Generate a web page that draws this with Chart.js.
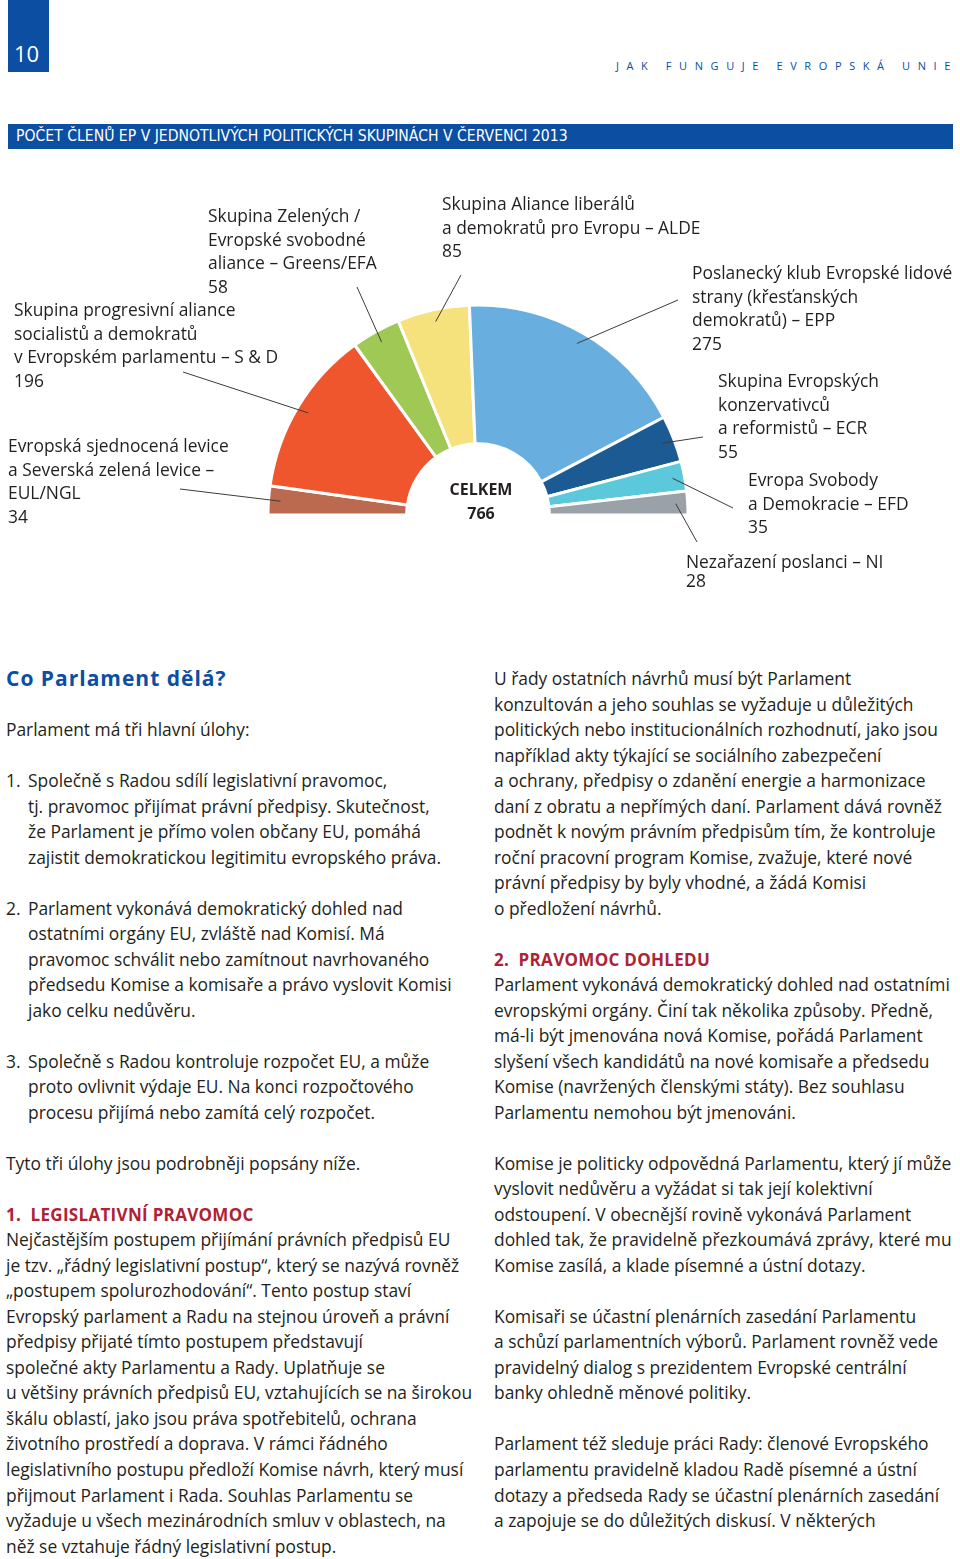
<!DOCTYPE html>
<html lang="cs">
<head>
<meta charset="utf-8">
<title>Počet členů EP v jednotlivých politických skupinách</title>
<script src="https://cdn.jsdelivr.net/npm/chart.js@4.4.1/dist/chart.umd.min.js"></script>
<style>
body { margin: 0; background: #fff; }
#page { position: relative; width: 960px; height: 1559px; overflow: hidden; font-family: "Open Sans", sans-serif; color: #231f20; }
#pagenum { position: absolute; left: 8px; top: 0; width: 41px; height: 72px; background: #0b4ea2; color: #fff; font-size: 22px; }
#pagenum span { position: absolute; left: 6px; top: 38px; line-height: 30px; }
#running { position: absolute; right: 2px; top: 58px; font-size: 11px; letter-spacing: 7.6px; color: #0b4ea2; line-height: 16px; white-space: nowrap; }
#band { position: absolute; left: 8px; top: 124px; width: 945px; height: 25px; background: #0b4ea2; color: #fff; }
#band span { position: absolute; left: 8px; top: 0; line-height: 25px; font-family: "Liberation Sans Narrow", "DejaVu Sans Condensed", sans-serif; font-stretch: condensed; font-size: 15.6px; white-space: nowrap; }
#chart { position: absolute; left: 0; top: 180px; }
.lbl { position: absolute; font-size: 17.4px; white-space: nowrap; color: #231f20; }
.lbl div { height: 0; position: relative; }
.lbl span { position: absolute; left: 0; transform: translateY(-50%); }
#total { position: absolute; left: 431px; width: 100px; top: 478px; text-align: center; font-weight: bold; font-size: 16px; line-height: 23.5px; color: #231f20; }
.col { position: absolute; top: 666px; font-size: 17.4px; }
.col .l { height: 25.53px; line-height: 25.53px; white-space: nowrap; }
.col .i { padding-left: 22px; position: relative; }
.col .i b { position: absolute; left: 0; font-weight: normal; }
.h1 { color: #0b4ea2; font-weight: bold; font-size: 21px; letter-spacing: 1px; }
.h2 { color: #ad2335; font-weight: bold; font-size: 17px; letter-spacing: 0.3px; }
</style>
</head>
<body>
<div id="page">
  <div id="pagenum"><span>10</span></div>
  <div id="running">JAK FUNGUJE EVROPSKÁ UNIE</div>
  <div id="band"><span>POČET ČLENŮ EP V JEDNOTLIVÝCH POLITICKÝCH SKUPINÁCH V ČERVENCI 2013</span></div>

  <canvas id="chart" width="960" height="420"></canvas>
  <div id="labels"></div>
  <div id="total"><div>CELKEM</div><div id="totalValue"></div></div>

  <div class="col" style="left:6px">
    <div class="l h1">Co Parlament dělá?</div>
    <div class="l"></div>
    <div class="l">Parlament má tři hlavní úlohy:</div>
    <div class="l"></div>
    <div class="l i"><b>1.</b>Společně s Radou sdílí legislativní pravomoc,</div>
    <div class="l i">tj. pravomoc přijímat právní předpisy. Skutečnost,</div>
    <div class="l i">že Parlament je přímo volen občany EU, pomáhá</div>
    <div class="l i">zajistit demokratickou legitimitu evropského práva.</div>
    <div class="l"></div>
    <div class="l i"><b>2.</b>Parlament vykonává demokratický dohled nad</div>
    <div class="l i">ostatními orgány EU, zvláště nad Komisí. Má</div>
    <div class="l i">pravomoc schválit nebo zamítnout navrhovaného</div>
    <div class="l i">předsedu Komise a komisaře a právo vyslovit Komisi</div>
    <div class="l i">jako celku nedůvěru.</div>
    <div class="l"></div>
    <div class="l i"><b>3.</b>Společně s Radou kontroluje rozpočet EU, a může</div>
    <div class="l i">proto ovlivnit výdaje EU. Na konci rozpočtového</div>
    <div class="l i">procesu přijímá nebo zamítá celý rozpočet.</div>
    <div class="l"></div>
    <div class="l">Tyto tři úlohy jsou podrobněji popsány níže.</div>
    <div class="l"></div>
    <div class="l h2">1.&nbsp; LEGISLATIVNÍ PRAVOMOC</div>
    <div class="l">Nejčastějším postupem přijímání právních předpisů EU</div>
    <div class="l">je tzv. „řádný legislativní postup“, který se nazývá rovněž</div>
    <div class="l">„postupem spolurozhodování“. Tento postup staví</div>
    <div class="l">Evropský parlament a Radu na stejnou úroveň a právní</div>
    <div class="l">předpisy přijaté tímto postupem představují</div>
    <div class="l">společné akty Parlamentu a Rady. Uplatňuje se</div>
    <div class="l">u většiny právních předpisů EU, vztahujících se na širokou</div>
    <div class="l">škálu oblastí, jako jsou práva spotřebitelů, ochrana</div>
    <div class="l">životního prostředí a doprava. V rámci řádného</div>
    <div class="l">legislativního postupu předloží Komise návrh, který musí</div>
    <div class="l">přijmout Parlament i Rada. Souhlas Parlamentu se</div>
    <div class="l">vyžaduje u všech mezinárodních smluv v oblastech, na</div>
    <div class="l">něž se vztahuje řádný legislativní postup.</div>
  </div>

  <div class="col" style="left:494px">
    <div class="l">U řady ostatních návrhů musí být Parlament</div>
    <div class="l">konzultován a jeho souhlas se vyžaduje u důležitých</div>
    <div class="l">politických nebo institucionálních rozhodnutí, jako jsou</div>
    <div class="l">například akty týkající se sociálního zabezpečení</div>
    <div class="l">a ochrany, předpisy o zdanění energie a harmonizace</div>
    <div class="l">daní z obratu a nepřímých daní. Parlament dává rovněž</div>
    <div class="l">podnět k novým právním předpisům tím, že kontroluje</div>
    <div class="l">roční pracovní program Komise, zvažuje, které nové</div>
    <div class="l">právní předpisy by byly vhodné, a žádá Komisi</div>
    <div class="l">o předložení návrhů.</div>
    <div class="l"></div>
    <div class="l h2">2.&nbsp; PRAVOMOC DOHLEDU</div>
    <div class="l">Parlament vykonává demokratický dohled nad ostatními</div>
    <div class="l">evropskými orgány. Činí tak několika způsoby. Předně,</div>
    <div class="l">má-li být jmenována nová Komise, pořádá Parlament</div>
    <div class="l">slyšení všech kandidátů na nové komisaře a předsedu</div>
    <div class="l">Komise (navržených členskými státy). Bez souhlasu</div>
    <div class="l">Parlamentu nemohou být jmenováni.</div>
    <div class="l"></div>
    <div class="l">Komise je politicky odpovědná Parlamentu, který jí může</div>
    <div class="l">vyslovit nedůvěru a vyžádat si tak její kolektivní</div>
    <div class="l">odstoupení. V obecnější rovině vykonává Parlament</div>
    <div class="l">dohled tak, že pravidelně přezkoumává zprávy, které mu</div>
    <div class="l">Komise zasílá, a klade písemné a ústní dotazy.</div>
    <div class="l"></div>
    <div class="l">Komisaři se účastní plenárních zasedání Parlamentu</div>
    <div class="l">a schůzí parlamentních výborů. Parlament rovněž vede</div>
    <div class="l">pravidelný dialog s prezidentem Evropské centrální</div>
    <div class="l">banky ohledně měnové politiky.</div>
    <div class="l"></div>
    <div class="l">Parlament též sleduje práci Rady: členové Evropského</div>
    <div class="l">parlamentu pravidelně kladou Radě písemné a ústní</div>
    <div class="l">dotazy a předseda Rady se účastní plenárních zasedání</div>
    <div class="l">a zapojuje se do důležitých diskusí. V některých</div>
  </div>
</div>

<script>
// seats per political group, July 2013 (left to right around the half circle)
const groups = ['EUL/NGL', 'S&D', 'Greens/EFA', 'ALDE', 'EPP', 'ECR', 'EFD', 'NI']
const seats = [34, 196, 58, 85, 275, 55, 35, 28]
const groupNames = [
    ['Evropská sjednocená levice', 'a Severská zelená levice –', 'EUL/NGL'],
    ['Skupina progresivní aliance', 'socialistů a demokratů', 'v Evropském parlamentu – S & D'],
    ['Skupina Zelených /', 'Evropské svobodné', 'aliance – Greens/EFA'],
    ['Skupina Aliance liberálů', 'a demokratů pro Evropu – ALDE'],
    ['Poslanecký klub Evropské lidové', 'strany (křesťanských', 'demokratů) – EPP'],
    ['Skupina Evropských', 'konzervativců', 'a reformistů – ECR'],
    ['Evropa Svobody', 'a Demokracie – EFD'],
    ['Nezařazení poslanci – NI']
]
const colors = ['#bc6a4f', '#f0562e', '#9fc954', '#f5e27c', '#68afdf', '#1b5a92', '#5bc8db', '#9aa1a8']

// where each label sits on the page: left, centre of first line, line step
const labelPos = [
    [8, 445, 23.5], [14, 309, 23.6], [208, 215, 23.6], [442, 203, 23.5],
    [692, 272, 23.7], [718, 380, 23.7], [748, 479, 23.5], [686, 561, 19]
]
// outer end of each leader line (page coordinates)
const leaderEnd = [[180, 489], [183, 372], [357, 287], [461, 275], [678, 300], [703, 437], [733, 508], [697, 542]]

const canvasTop = 180

let labelsWrap = document.querySelector('#labels')
groupNames.forEach((lines, i) => {
    let [x, y, step] = labelPos[i]
    let box = document.createElement('div')
    box.className = 'lbl'
    box.style.left = x + 'px'
    box.style.top = y + 'px'
    lines.concat(String(seats[i])).forEach((txt, k) => {
        let row = document.createElement('div')
        row.style.top = (k * step) + 'px'
        let s = document.createElement('span')
        s.textContent = txt
        row.append(s)
        box.append(row)
    })
    labelsWrap.append(box)
})

let total = seats.reduce((a, b) => a + b, 0)
document.querySelector('#totalValue').textContent = total

const leaders = {
    id: 'leaders',
    afterDatasetsDraw(chart) {
        const ctx = chart.ctx
        const arcs = chart.getDatasetMeta(0).data
        ctx.save()
        ctx.strokeStyle = '#3c3c3c'
        ctx.lineWidth = 1
        arcs.forEach((arc, i) => {
            const mid = (arc.startAngle + arc.endAngle) / 2
            const r = arc.outerRadius - 12
            const [ex, ey] = leaderEnd[i]
            ctx.beginPath()
            ctx.moveTo(ex, ey - canvasTop)
            ctx.lineTo(arc.x + Math.cos(mid) * r, arc.y + Math.sin(mid) * r)
            ctx.stroke()
        })
        ctx.restore()
    }
}

new Chart(document.querySelector('#chart'), {
    type: 'doughnut',
    data: {
        labels: groups,
        datasets: [{
            data: seats,
            backgroundColor: colors,
            borderColor: '#ffffff',
            borderWidth: 3,
            hoverOffset: 0
        }]
    },
    options: {
        responsive: false,
        animation: false,
        rotation: -90,
        circumference: 180,
        radius: 210,
        cutout: 64,
        layout: { padding: { left: 0, right: 4, top: 40, bottom: 0 } },
        plugins: {
            legend: { display: false },
            tooltip: { enabled: false }
        }
    },
    plugins: [leaders]
})
</script>
</body>
</html>
